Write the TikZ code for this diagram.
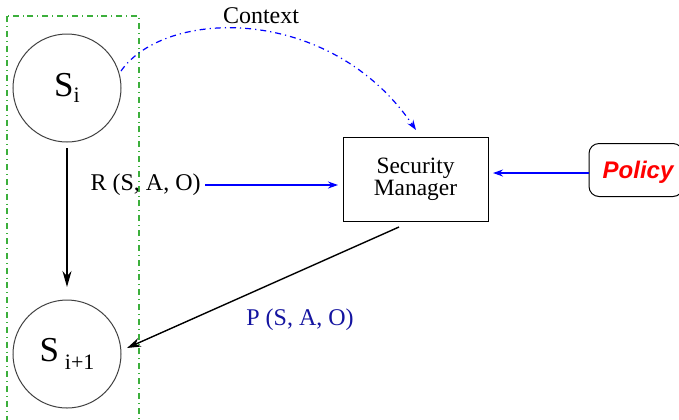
\documentclass[tikz,border=0pt]{standalone}
\usepackage{fontspec}
\setmainfont{Liberation Serif}
\newfontfamily\policyfont{Liberation Sans}
\usetikzlibrary{arrows.meta}
\definecolor{framegreen}{RGB}{60,175,60}
\definecolor{labelnavy}{RGB}{20,20,160}
\tikzset{
  state/.style={circle, draw=black!75, line width=0.5pt, minimum size=54pt, inner sep=0pt, font=\fontsize{17.5}{20}\selectfont},
  manager/.style={draw, line width=0.5pt, minimum width=72.5pt, minimum height=42pt, align=center, font=\fontsize{11.7}{9.5}\selectfont},
  policybox/.style={draw, rounded corners=5pt, line width=0.5pt, minimum width=47pt, minimum height=26.5pt},
  lbl/.style={font=\fontsize{12}{14}\selectfont, inner sep=0pt},
  flow/.style={blue, line width=0.6pt, -{Stealth[length=5pt,width=3.5pt]}},
  step arrow/.style={black, line width=0.8pt, -{Stealth[length=8pt,width=4.5pt]}},
}
\begin{document}
\begin{tikzpicture}[x=0.5pt, y=-0.5pt]
  \useasboundingbox (0,0) rectangle (679,419);
  \clip (0,0) rectangle (679,419);

  % grouping frame around the two states
  \draw[framegreen, dash dot, line width=0.6pt] (7,16) rectangle (139,430);

  % states
  \node[state] (si)  at (67,88)  {S\raisebox{-0.35ex}{\fontsize{11}{12}\selectfont i}};
  \node[state] (si1) at (67,354) {S\,\raisebox{-0.45ex}{\fontsize{11}{12}\selectfont i+1}};

  % security manager and policy
  \node[manager] (sm) at (415.5,179) {Security\\Manager};
  \node[policybox] (pol) at (636,170) {};
  \node[font=\policyfont\bfseries\itshape\fontsize{12}{14}\selectfont, text=red] at (638,172) {Policy};

  % labels
  \node[lbl] (ctx) at (261,16) {Context};
  \node[lbl, anchor=east] (req) at (201,185) {R (S, A, O)};
  \node[lbl, text=labelnavy] (perm) at (300,320) {P (S, A, O)};

  % connector end points
  \coordinate (stepstart) at (67,148);
  \coordinate (stepend)   at (67,287);
  \coordinate (ctxstart)  at (121,71);
  \coordinate (ctxend)    at (416,130);
  \coordinate (reqstart)  at (205,185);
  \coordinate (reqend)    at (338,185);
  \coordinate (polstart)  at (589,173);
  \coordinate (polend)    at (493,173);
  \coordinate (permstart) at (399,227);
  \coordinate (permend)   at (127,348);

  % connectors
  \draw[step arrow] (stepstart) -- (stepend);
  \draw[flow, dash dot] (ctxstart) .. controls (165,8) and (330,4) .. (ctxend);
  \draw[flow] (reqstart) -- (reqend);
  \draw[flow] (polstart) -- (polend);
  \draw[black, line width=0.7pt, -{Stealth[length=7pt,width=4.5pt]}] (permstart) -- (permend);
\end{tikzpicture}
\end{document}
